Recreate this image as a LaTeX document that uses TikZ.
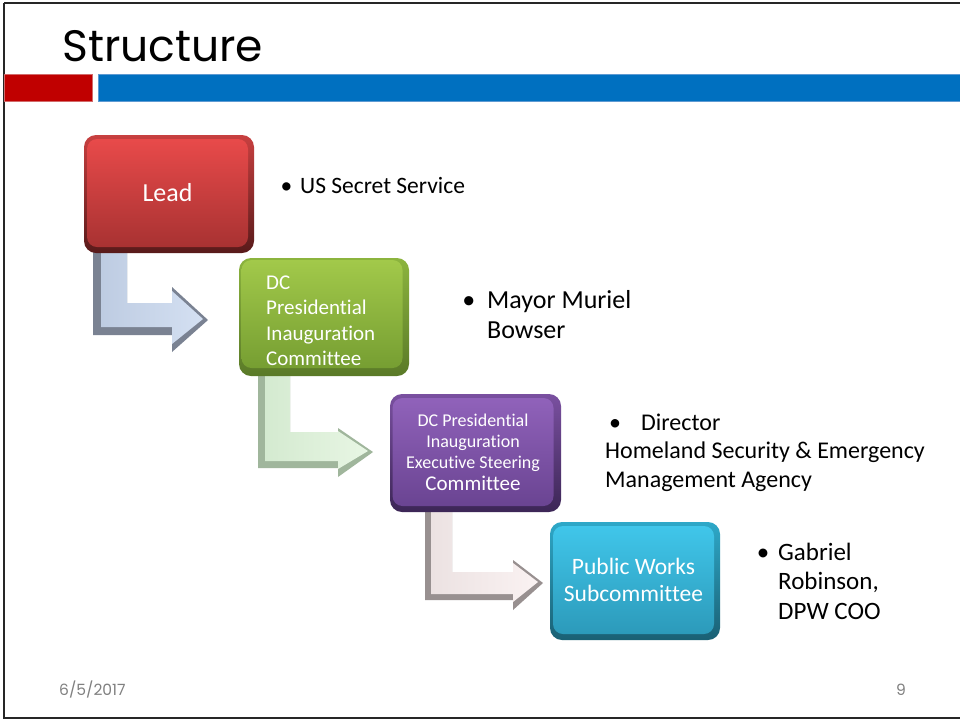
\documentclass[tikz,border=0pt]{standalone}
\usepackage{fontspec}
\setmainfont{Carlito}[Ligatures=NoCommon]
\newfontfamily\titlefont{Poppins}
\definecolor{barred}{HTML}{C00000}
\definecolor{barredl}{HTML}{D26A6A}
\definecolor{barblue}{HTML}{0070C0}
\definecolor{barbluel}{HTML}{5E9AD2}
\definecolor{footgray}{HTML}{808080}
\tikzset{
  face/.style={rounded corners=10pt, minimum width=161pt, minimum height=108pt, inner sep=0pt, text=white, align=center},
  bevel/.style={rounded corners=12pt},
  bultext/.style={anchor=base west, inner sep=0pt, align=left, font=\fontsize{24}{29}\selectfont},
}
\begin{document}
\begin{tikzpicture}[x=1pt,y=-1pt]
\useasboundingbox (0,0) rectangle (960,721);
\fill[white] (0,0) rectangle (960,721);
% frame
\draw[line width=2pt, black!85] (4,3) -- (965,3);
\draw[line width=2pt, black!85] (4,3) -- (4,718) -- (965,718);
% bars
\fill[barred, draw=barredl, line width=1pt] (4.5,74) rectangle (92,101);
\fill[barblue, draw=barbluel, line width=1pt] (98,74) rectangle (965,101);
% title
\node[anchor=base west, inner sep=0pt] (title) at (62,61) {\titlefont\fontsize{44}{44}\selectfont Structure};
% footer
\node[anchor=base west, inner sep=0pt, text=footgray] (date) at (59,695) {\titlefont\fontsize{15.5}{16}\selectfont 6/5/2017};
\node[anchor=base west, inner sep=0pt, text=footgray] (page) at (896,695) {\titlefont\fontsize{15.5}{16}\selectfont 9};

% ---- bent arrows (drawn under the boxes)
% arrow 1 (blue-gray)
\fill[color={rgb,255:red,122;green,130;blue,146}] (93,250) -- (127,250) -- (127,303) -- (172,303) -- (172,287) -- (208,320) -- (172,352) -- (172,335) -- (93,335) -- cycle;
\shade[left color={rgb,255:red,190;green,204;blue,226}, right color={rgb,255:red,212;green,224;blue,242}] (101,250) -- (127,250) -- (127,303) -- (172,303) -- (172,291) -- (203,319) -- (172,344) -- (172,327) -- (101,327) -- cycle;
% arrow 2 (light green)
\fill[color={rgb,255:red,160;green,182;blue,156}] (258,372) -- (290,372) -- (290,432) -- (338,432) -- (338,428) -- (373,452) -- (338,477) -- (338,468) -- (258,468) -- cycle;
\shade[left color={rgb,255:red,212;green,234;blue,208}, right color={rgb,255:red,232;green,246;blue,228}] (265,372) -- (290,372) -- (290,432) -- (338,432) -- (338,431) -- (368,451) -- (338,469) -- (338,461) -- (265,461) -- cycle;
% arrow 3 (pink-white)
\fill[color={rgb,255:red,152;green,144;blue,144}] (425,508) -- (452,508) -- (452,572) -- (513,572) -- (513,560) -- (543,583) -- (513,610) -- (513,600) -- (425,600) -- cycle;
\shade[left color={rgb,255:red,236;green,226;blue,226}, right color={rgb,255:red,250;green,242;blue,242}] (431,508) -- (452,508) -- (452,572) -- (513,572) -- (513,563) -- (538,582) -- (513,602) -- (513,594) -- (431,594) -- cycle;

% ---- boxes
% Lead
\shade[bevel, top color={rgb,255:red,200;green,64;blue,64}, bottom color={rgb,255:red,88;green,26;blue,26}] (84,135) rectangle (254,253);
\node[face, top color={rgb,255:red,232;green,74;blue,74}, bottom color={rgb,255:red,168;green,50;blue,50}, font=\fontsize{26}{30}\selectfont] (lead) at (167.5,193) {Lead};
% Green
\shade[bevel, top color={rgb,255:red,140;green,180;blue,62}, bottom color={rgb,255:red,90;green,122;blue,40}] (239,258) rectangle (409,376);
\node[face, top color={rgb,255:red,162;green,201;blue,74}, bottom color={rgb,255:red,118;green,158;blue,50}] (dcpic) at (322,314) {};
\node[anchor=base west, inner sep=0pt, align=left, text=white, font=\fontsize{21}{25.5}\selectfont] (dcpictext) at (266,365.5) {DC\\Presidential\\Inauguration\\Committee};
% Purple
\shade[bevel, top color={rgb,255:red,122;green,80;blue,160}, bottom color={rgb,255:red,60;green,38;blue,86}] (390,394) rectangle (561,512);
\node[face, top color={rgb,255:red,144;green,98;blue,186}, bottom color={rgb,255:red,106;green,68;blue,146}, font=\fontsize{18}{21}\selectfont] (exec) at (473,452) {DC Presidential\\Inauguration\\Executive Steering\\[1pt]{\fontsize{21}{22}\selectfont Committee}};
% Teal
\shade[bevel, top color={rgb,255:red,46;green,168;blue,200}, bottom color={rgb,255:red,26;green,96;blue,116}] (550,522) rectangle (720,640);
\node[face, top color={rgb,255:red,64;green,198;blue,234}, bottom color={rgb,255:red,44;green,154;blue,186}, font=\fontsize{23.5}{27}\selectfont] (pw) at (633.5,580) {Public Works\\Subcommittee};

% ---- bullet texts
\node[bultext, font=\fontsize{23.5}{28}\selectfont] (ss) at (300,193) {\llap{•\hspace{8pt}}US Secret Service};
\node[bultext, font=\fontsize{26}{30}\selectfont] (mayor) at (487,338) {\llap{•\hspace{12pt}}Mayor Muriel\\Bowser};
\node[bultext, font=\fontsize{24}{28.5}\selectfont] (dir) at (605,487) {\hspace{4pt}•\hspace{20pt}Director\\Homeland Security \& Emergency\\Management Agency};
\node[bultext, font=\fontsize{25}{29.5}\selectfont] (gr) at (778,619) {\llap{•\hspace{9pt}}Gabriel\\Robinson,\\DPW COO};
\end{tikzpicture}
\end{document}
